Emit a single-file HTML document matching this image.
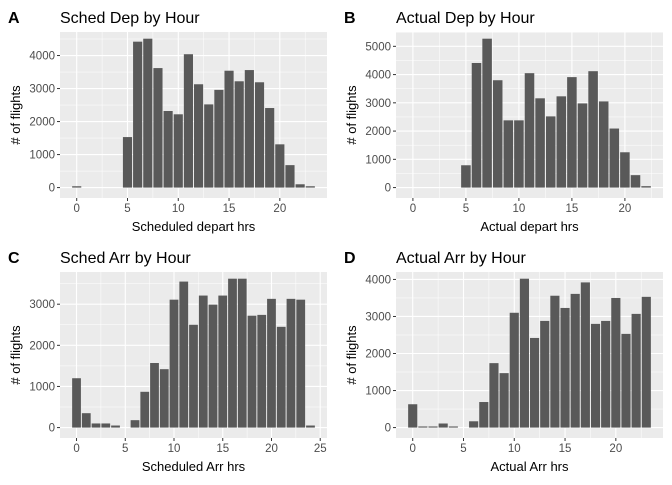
<!DOCTYPE html>
<html><head><meta charset="utf-8"><style>
body{margin:0;background:#fff;font-family:"Liberation Sans",Arial,sans-serif}
svg text{font-family:"Liberation Sans",Arial,sans-serif}
</style></head><body>
<svg id="root" width="672" height="480" xmlns="http://www.w3.org/2000/svg"></svg>
<script>
const hoursA=[0,5,6,7,8,9,10,11,12,13,14,15,16,17,18,19,20,21,22,23];
const valuesA=[40,1530,4420,4510,3620,2320,2220,4040,3130,2520,2960,3540,3220,3560,3190,2410,1310,680,100,40];
const hoursB=[5,6,7,8,9,10,11,12,13,14,15,16,17,18,19,20,21,22];
const valuesB=[790,4410,5270,3800,2380,2380,4050,3160,2520,3230,3910,2980,4120,3050,2090,1250,440,50];
const hoursC=[0,1,2,3,4,6,7,8,9,10,11,12,13,14,15,16,17,18,19,20,21,22,23,24];
const valuesC=[1200,350,100,100,50,180,870,1570,1420,3110,3550,2500,3210,2990,3210,3620,3620,2720,2740,3130,2450,3130,3110,50];
const hoursD=[0,1,2,3,4,6,7,8,9,10,11,12,13,14,15,16,17,18,19,20,21,22,23];
const valuesD=[630,30,30,110,30,170,690,1740,1470,3100,4020,2420,2880,3560,3230,3610,3920,2800,2880,3500,2530,3070,3530];
const yTicksA=[0,1000,2000,3000,4000], yTicksB=[0,1000,2000,3000,4000,5000], yTicksC=[0,1000,2000,3000], yTicksD=[0,1000,2000,3000,4000];
const xTicksA=[0,5,10,15,20], xTicksB=[0,5,10,15,20], xTicksC=[0,5,10,15,20,25], xTicksD=[0,5,10,15,20];
const panels=[
 {tag:'A',title:'Sched Dep by Hour',xt:'Scheduled depart hrs',ox:0,oy:0,h:hoursA,v:valuesA,yt:yTicksA,xt2:xTicksA,xr:[0,23]},
 {tag:'B',title:'Actual Dep by Hour',xt:'Actual depart hrs',ox:336,oy:0,h:hoursB,v:valuesB,yt:yTicksB,xt2:xTicksB,xr:[0,22]},
 {tag:'C',title:'Sched Arr by Hour',xt:'Scheduled Arr hrs',ox:0,oy:240,h:hoursC,v:valuesC,yt:yTicksC,xt2:xTicksC,xr:[0,24]},
 {tag:'D',title:'Actual Arr by Hour',xt:'Actual Arr hrs',ox:336,oy:240,h:hoursD,v:valuesD,yt:yTicksD,xt2:xTicksD,xr:[0,23]}
];
const NS='http://www.w3.org/2000/svg', root=document.getElementById('root');
function mk(t,a,p,txt){const e=document.createElementNS(NS,t);for(const k in a)e.setAttribute(k,a[k]);if(txt!==undefined)e.textContent=txt;p.appendChild(e);return e;}
panels.forEach(P=>{
 const g=mk('g',{transform:`translate(${P.ox},${P.oy})`},root);
 
 
 const L=60,R=327,T=32,B=198;
 const lo=Math.min(P.xr[0],Math.min(...P.h))-0.45, hi=Math.max(P.xr[1],Math.max(...P.h))+0.45;
 const xmin=lo-(hi-lo)*0.05, xmax=hi+(hi-lo)*0.05;
 const ymaxD=Math.max(...P.v), ymin=-ymaxD*0.07, ymax=ymaxD*1.045;
 const sx=x=>L+(x-xmin)/(xmax-xmin)*(R-L), sy=y=>B-(y-ymin)/(ymax-ymin)*(B-T);
 const bg=mk('rect',{x:L,y:T,width:R-L,height:B-T,fill:'#ebebeb'},g);
 
 
 const step=P.yt[1]-P.yt[0];
 P.yt.forEach(t=>{const m=t+step/2; if(sy(m)>T) mk('line',{x1:L,x2:R,y1:sy(m),y2:sy(m),stroke:'#fff','stroke-width':0.5},g);});
 const xs=P.xt2[1]-P.xt2[0];
 for(let t=P.xt2[0]-xs/2;t<xmax;t+=xs){ if(sx(t)>L) mk('line',{y1:T,y2:B,x1:sx(t),x2:sx(t),stroke:'#fff','stroke-width':0.5},g);}
 P.yt.forEach(t=>{mk('line',{x1:L,x2:R,y1:sy(t),y2:sy(t),stroke:'#fff','stroke-width':1.1},g);
  mk('line',{x1:L-3,x2:L,y1:sy(t),y2:sy(t),stroke:'#333','stroke-width':1},g);
  const tl=mk('text',{x:L-5,y:sy(t)+4,'text-anchor':'end','font-size':11.5,fill:'#4d4d4d'},g,String(t));
  
  });
 P.xt2.forEach(t=>{mk('line',{y1:T,y2:B,x1:sx(t),x2:sx(t),stroke:'#fff','stroke-width':1.1},g);
  mk('line',{y1:B,y2:B+3,x1:sx(t),x2:sx(t),stroke:'#333','stroke-width':1},g);
  const tl=mk('text',{x:sx(t),y:B+14,'text-anchor':'middle','font-size':11.5,fill:'#4d4d4d'},g,String(t));
  
  });
 P.h.forEach((h,i)=>{const y0=sy(0),y1=sy(P.v[i]);
  const r=mk('rect',{x:sx(h-0.45),width:sx(h+0.45)-sx(h-0.45),y:y1,height:y0-y1,fill:'#595959'},g);
  
  });
 const tg=mk('text',{x:8,y:23,'font-size':16,'font-weight':'bold',fill:'#000'},g,P.tag);
 
 
 const tt=mk('text',{x:L,y:23,'font-size':16,fill:'#000'},g,P.title);
 
 
 const xl=mk('text',{x:(L+R)/2,y:231,'text-anchor':'middle','font-size':13,fill:'#000'},g,P.xt);
 
 
 const yl=mk('text',{x:0,y:0,'text-anchor':'middle','font-size':13,fill:'#000',transform:`translate(20,${(T+B)/2}) rotate(-90)`},g,'# of flights');
 
 
});
</script>
</body></html>
